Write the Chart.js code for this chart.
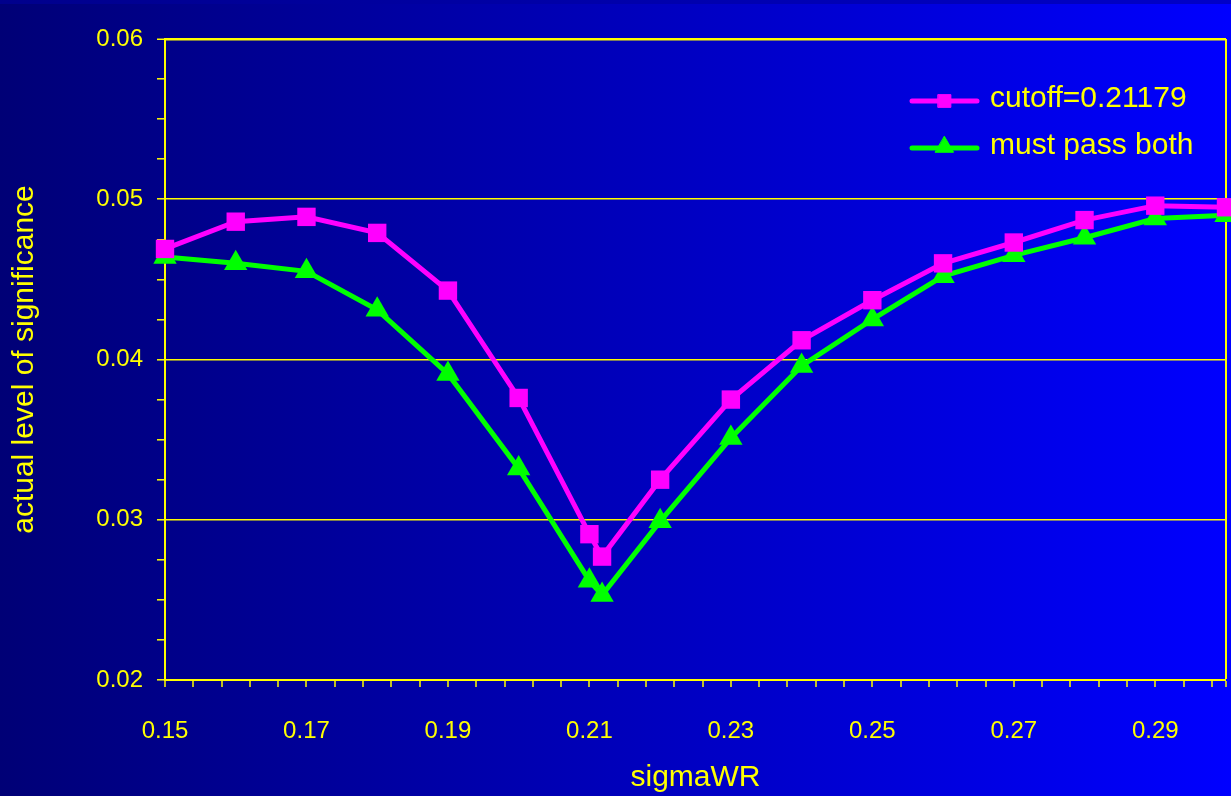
<!doctype html>
<html lang="en">
  <head>
    <meta charset="utf-8">
    <title>Actual level of significance vs sigmaWR</title>
    <script src="https://cdn.jsdelivr.net/npm/chart.js"></script>
    <style>
      html, body { margin: 0; padding: 0; }
      body {
        width: 1231px;
        height: 796px;
        overflow: hidden;
        background: linear-gradient(to right, #000076, #0000ff);
      }
      .strip {
        position: absolute; left: 0; top: 0; width: 1231px; height: 4px;
        background: linear-gradient(to right, #00008c, #0000c8);
      }
      .wrap { position: absolute; left: 0; top: 0; width: 1231px; height: 796px; }
      canvas { display: block; }
    </style>
  </head>
  <body>
    <div class="strip"></div>
    <div class="wrap"><canvas id="myChart" width="1231" height="796"></canvas></div>
    <script>
      // x values (sigmaWR), the 0.21179 point is the cutoff
      const sigmaWR = [0.15, 0.16, 0.17, 0.18, 0.19, 0.20, 0.21, 0.21179, 0.22, 0.23, 0.24, 0.25, 0.26, 0.27, 0.28, 0.29, 0.30];
      const cutoffValues = [0.0469, 0.0486, 0.0489, 0.0479, 0.0443, 0.0376, 0.0291, 0.0277, 0.0325, 0.0375, 0.0412, 0.0437, 0.0460, 0.0473, 0.0487, 0.0496, 0.0495];
      const passBothValues = [0.0464, 0.0460, 0.0455, 0.0431, 0.0391, 0.0332, 0.0262, 0.0253, 0.0299, 0.0351, 0.0396, 0.0425, 0.0452, 0.0465, 0.0476, 0.0488, 0.0490];

      const seriesNames = ['cutoff=0.21179', 'must pass both'];
      const xTickLabels = ['0.15', '0.17', '0.19', '0.21', '0.23', '0.25', '0.27', '0.29'];
      const yTickLabels = ['0.02', '0.03', '0.04', '0.05', '0.06'];

      const xMin = 0.15, xMax = 0.30, xMinorStep = 0.004, xMinorPerMajor = 5;
      const yMinorPerMajor = 4;

      const yellow = '#ffff00';
      const fontFamily = '"Liberation Sans", Arial, sans-serif';

      function pts(values) {
        return sigmaWR.map((x, i) => ({ x: x, y: values[i] }));
      }

      // legend drawn inside the plot, top right
      const innerLegend = {
        id: 'innerLegend',
        afterDatasetsDraw(chart) {
          const ctx = chart.ctx;
          const area = chart.chartArea;
          const rows = [62, 109];
          ctx.save();
          chart.data.datasets.forEach((ds, i) => {
            const y = area.top + rows[i];
            const x0 = area.right - 314, x1 = area.right - 249;
            ctx.strokeStyle = ds.borderColor;
            ctx.lineWidth = 5;
            ctx.lineCap = 'round';
            ctx.beginPath();
            ctx.moveTo(x0, y);
            ctx.lineTo(x1, y);
            ctx.stroke();
            ctx.fillStyle = ds.backgroundColor;
            ctx.strokeStyle = ds.backgroundColor;
            ctx.lineWidth = 1;
            Chart.helpers.drawPoint(ctx, {
              pointStyle: ds.pointStyle,
              radius: ds.pointStyle === 'rect' ? 9 : 10.5,
              borderWidth: 1
            }, (x0 + x1) / 2, ds.pointStyle === 'rect' ? y : y - 1);
            ctx.fillStyle = yellow;
            ctx.font = '30px ' + fontFamily;
            ctx.textAlign = 'left';
            ctx.textBaseline = 'middle';
            ctx.fillText(ds.label, area.right - 236, y - 2);
          });
          ctx.restore();
        }
      };

      const ctx = document.getElementById('myChart').getContext('2d');
      new Chart(ctx, {
        type: 'scatter',
        data: {
          datasets: [{
            label: seriesNames[0],
            data: pts(cutoffValues),
            showLine: true,
            borderColor: '#ff00ff',
            backgroundColor: '#ff00ff',
            borderWidth: 5,
            pointStyle: 'rect',
            pointRadius: 13,
            pointHoverRadius: 13,
            pointBorderWidth: 0,
            tension: 0,
            clip: false
          }, {
            label: seriesNames[1],
            data: pts(passBothValues),
            showLine: true,
            borderColor: '#00ff00',
            backgroundColor: '#00ff00',
            borderWidth: 5,
            pointStyle: 'triangle',
            pointRadius: 13.5,
            pointHoverRadius: 13.5,
            pointBorderWidth: 0,
            tension: 0,
            clip: false
          }]
        },
        options: {
          responsive: false,
          animation: false,
          devicePixelRatio: 1,
          layout: { autoPadding: false, padding: { top: 39, right: 5, left: 0, bottom: 0 } },
          plugins: {
            legend: { display: false },
            tooltip: { enabled: false }
          },
          scales: {
            x: {
              type: 'linear',
              min: xMin,
              max: xMax,
              afterBuildTicks(scale) {
                const ticks = [];
                const n = Math.floor((xMax - xMin) / xMinorStep + 1e-9);
                for (let k = 0; k <= n; k++) ticks.push({ value: xMin + k * xMinorStep });
                ticks.push({ value: xMax });
                scale.ticks = ticks;
              },
              afterFit(scale) {
                scale.height = 116;
                scale.paddingLeft = 0;
                scale.paddingRight = 0;
              },
              border: { display: true, color: yellow, width: 2 },
              grid: {
                drawOnChartArea: true,
                tickLength: 7,
                tickWidth: 1.5,
                tickColor: yellow,
                color: (c) => (c.index === c.scale.ticks.length - 1 ? yellow : 'rgba(0,0,0,0)'),
                lineWidth: (c) => (c.index === c.scale.ticks.length - 1 ? 2 : 0)
              },
              ticks: {
                autoSkip: false,
                maxRotation: 0,
                padding: 30,
                color: yellow,
                font: { size: 24, family: fontFamily },
                callback: (v, i) => (i % xMinorPerMajor === 0 ? (xTickLabels[i / xMinorPerMajor] || '') : '')
              },
              title: {
                display: true,
                text: 'sigmaWR',
                color: yellow,
                font: { size: 30, family: fontFamily },
                padding: { top: 0, bottom: 0 }
              }
            },
            y: {
              type: 'linear',
              min: 0.02,
              max: 0.06,
              afterBuildTicks(scale) {
                const ticks = [];
                const n = (yTickLabels.length - 1) * yMinorPerMajor;
                for (let k = 0; k <= n; k++) ticks.push({ value: 0.02 + k * 0.01 / yMinorPerMajor });
                scale.ticks = ticks;
              },
              afterFit(scale) { scale.width = 165; },
              border: { display: true, color: yellow, width: 2 },
              grid: {
                drawOnChartArea: true,
                tickLength: 8,
                tickWidth: 1.5,
                tickColor: yellow,
                color: (c) => (c.index % yMinorPerMajor === 0 && c.index > 0 ? yellow : 'rgba(0,0,0,0)'),
                lineWidth: (c) => (c.index === c.scale.ticks.length - 1 ? 2.5 : 1.6)
              },
              ticks: {
                autoSkip: false,
                padding: 14,
                color: yellow,
                font: { size: 24, family: fontFamily },
                callback: (v, i) => (i % yMinorPerMajor === 0 ? yTickLabels[i / yMinorPerMajor] : '')
              },
              title: {
                display: true,
                text: 'actual level of significance',
                color: yellow,
                font: { size: 30, family: fontFamily },
                padding: { top: 7, bottom: 0 }
              }
            }
          }
        },
        plugins: [innerLegend]
      });
    </script>
  </body>
</html>
